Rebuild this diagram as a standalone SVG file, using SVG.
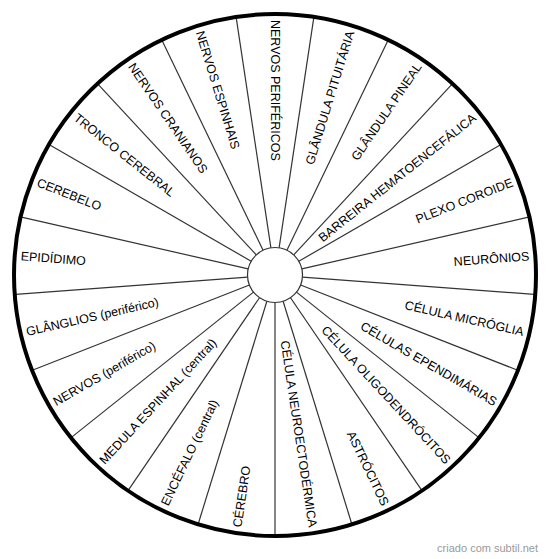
<svg xmlns="http://www.w3.org/2000/svg" width="550" height="559" viewBox="0 0 550 559">
<style>
.lbl{font-family:"Liberation Sans",Arial,sans-serif;font-size:12.5px;fill:#000}
.r{text-anchor:end}
.l{text-anchor:start}
.sp{stroke:#333;stroke-width:1.2;fill:none}
.wm{font-family:"Liberation Sans",Arial,sans-serif;font-size:11px;fill:#9a9a9a;text-anchor:end}
</style>
<rect width="550" height="559" fill="#fff"/>
<g id="connectors" class="sp">
<line x1="302.5" y1="275" x2="535" y2="275" transform="rotate(-81.4286 275 275)"/>
<line x1="302.5" y1="275" x2="535" y2="275" transform="rotate(-64.2857 275 275)"/>
<line x1="302.5" y1="275" x2="535" y2="275" transform="rotate(-47.1429 275 275)"/>
<line x1="302.5" y1="275" x2="535" y2="275" transform="rotate(-30 275 275)"/>
<line x1="302.5" y1="275" x2="535" y2="275" transform="rotate(-12.8571 275 275)"/>
<line x1="302.5" y1="275" x2="535" y2="275" transform="rotate(4.2857 275 275)"/>
<line x1="302.5" y1="275" x2="535" y2="275" transform="rotate(21.4286 275 275)"/>
<line x1="302.5" y1="275" x2="535" y2="275" transform="rotate(38.5714 275 275)"/>
<line x1="302.5" y1="275" x2="535" y2="275" transform="rotate(55.7143 275 275)"/>
<line x1="302.5" y1="275" x2="535" y2="275" transform="rotate(72.8571 275 275)"/>
<line x1="302.5" y1="275" x2="535" y2="275" transform="rotate(90 275 275)"/>
<line x1="302.5" y1="275" x2="535" y2="275" transform="rotate(107.1429 275 275)"/>
<line x1="302.5" y1="275" x2="535" y2="275" transform="rotate(124.2857 275 275)"/>
<line x1="302.5" y1="275" x2="535" y2="275" transform="rotate(141.4286 275 275)"/>
<line x1="302.5" y1="275" x2="535" y2="275" transform="rotate(158.5714 275 275)"/>
<line x1="302.5" y1="275" x2="535" y2="275" transform="rotate(175.7143 275 275)"/>
<line x1="302.5" y1="275" x2="535" y2="275" transform="rotate(192.8571 275 275)"/>
<line x1="302.5" y1="275" x2="535" y2="275" transform="rotate(210 275 275)"/>
<line x1="302.5" y1="275" x2="535" y2="275" transform="rotate(227.1429 275 275)"/>
<line x1="302.5" y1="275" x2="535" y2="275" transform="rotate(244.2857 275 275)"/>
<line x1="302.5" y1="275" x2="535" y2="275" transform="rotate(261.4286 275 275)"/>
</g>
<circle id="outer" cx="275" cy="275" r="261" fill="none" stroke="#000" stroke-width="4"/>
<circle id="hub" cx="275" cy="275" r="27.5" fill="#fff" stroke="#333" stroke-width="1.2"/>
<g id="n0"><text class="lbl l" x="20" y="275" dy="4.4" transform="rotate(90 275 275)">NERVOS PERIFÉRICOS</text></g>
<g id="n1"><text class="lbl r" x="530" y="275" dy="4.4" transform="rotate(-72.8571 275 275)">GLÂNDULA PITUITÁRIA</text></g>
<g id="n2"><text class="lbl r" x="530" y="275" dy="4.4" transform="rotate(-55.7143 275 275)">GLÂNDULA PINEAL</text></g>
<g id="n3"><text class="lbl r" x="530" y="275" dy="4.4" transform="rotate(-38.5714 275 275)">BARREIRA HEMATOENCEFÁLICA</text></g>
<g id="n4"><text class="lbl r" x="530" y="275" dy="4.4" transform="rotate(-21.4286 275 275)">PLEXO COROIDE</text></g>
<g id="n5"><text class="lbl r" x="530" y="275" dy="4.4" transform="rotate(-4.2857 275 275)">NEURÔNIOS</text></g>
<g id="n6"><text class="lbl r" x="530" y="275" dy="4.4" transform="rotate(12.8571 275 275)">CÉLULA MICRÓGLIA</text></g>
<g id="n7"><text class="lbl r" x="530" y="275" dy="4.4" transform="rotate(30 275 275)">CÉLULAS EPENDIMÁRIAS</text></g>
<g id="n8"><text class="lbl r" x="530" y="275" dy="4.4" transform="rotate(47.1429 275 275)">CÉLULA OLIGODENDRÓCITOS</text></g>
<g id="n9"><text class="lbl r" x="530" y="275" dy="4.4" transform="rotate(64.2857 275 275)">ASTRÓCITOS</text></g>
<g id="n10"><text class="lbl r" x="530" y="275" dy="4.4" transform="rotate(81.4286 275 275)">CÉLULA NEUROECTODÉRMICA</text></g>
<g id="n11"><text class="lbl l" x="20" y="275" dy="4.4" transform="rotate(-81.4286 275 275)">CÉREBRO</text></g>
<g id="n12"><text class="lbl l" x="20" y="275" dy="4.4" transform="rotate(-64.2857 275 275)">ENCÉFALO (central)</text></g>
<g id="n13"><text class="lbl l" x="20" y="275" dy="4.4" transform="rotate(-47.1429 275 275)">MEDULA ESPINHAL (central)</text></g>
<g id="n14"><text class="lbl l" x="20" y="275" dy="4.4" transform="rotate(-30 275 275)">NERVOS (periférico)</text></g>
<g id="n15"><text class="lbl l" x="20" y="275" dy="4.4" transform="rotate(-12.8571 275 275)">GLÂNGLIOS (periférico)</text></g>
<g id="n16"><text class="lbl l" x="20" y="275" dy="4.4" transform="rotate(4.2857 275 275)">EPIDÍDIMO</text></g>
<g id="n17"><text class="lbl l" x="20" y="275" dy="4.4" transform="rotate(21.4286 275 275)">CEREBELO</text></g>
<g id="n18"><text class="lbl l" x="20" y="275" dy="4.4" transform="rotate(38.5714 275 275)">TRONCO CEREBRAL</text></g>
<g id="n19"><text class="lbl l" x="20" y="275" dy="4.4" transform="rotate(55.7143 275 275)">NERVOS CRANIANOS</text></g>
<g id="n20"><text class="lbl l" x="20" y="275" dy="4.4" transform="rotate(72.8571 275 275)">NERVOS ESPINHAIS</text></g>
<text class="wm" x="538" y="552">criado com subtil.net</text>
</svg>
